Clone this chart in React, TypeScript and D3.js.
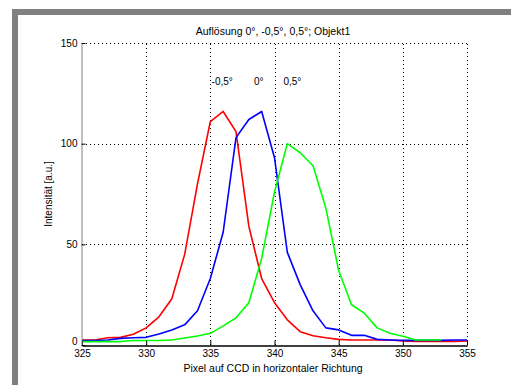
import React, { useEffect, useRef } from "react";
import * as d3 from "d3";

// pixel positions on the CCD (x values)
const pixels = [
  325, 326, 327, 328, 329, 330, 331, 332, 333, 334, 335, 336, 337, 338, 339, 340,
  341, 342, 343, 344, 345, 346, 347, 348, 349, 350, 351, 352, 353, 354, 355,
];

// intensity, -0,5°
const redValues = [
  2.5, 2.5, 3.6, 3.8, 5.3, 8.5, 14, 23, 45, 80, 111, 116, 106, 59, 33, 21,
  12.5, 6.6, 4.6, 3.6, 2.8, 2.5, 2.5, 2.5, 2.5, 2, 1.8, 1.8, 1.8, 1.8, 2,
];
// intensity, 0°
const blueValues = [
  2.2, 2.2, 2.5, 3.3, 3.6, 3.8, 5.5, 7.5, 10, 17, 33, 56, 103, 112, 116, 93,
  46, 30, 17, 8.5, 7.5, 4.8, 4.8, 2.8, 2.5, 2.3, 2.3, 2.3, 2.3, 2.5, 2.5,
];
// intensity, 0,5° (ends at 353)
const greenValues = [
  1.7, 1.7, 1.7, 1.7, 2.2, 2.2, 2.2, 2.5, 3.5, 4.5, 5.8, 9.5, 13.5, 21, 43, 76,
  100, 95.5, 89, 68, 37, 20, 15.8, 8.5, 5.8, 4.3, 2.5, 2.5, 2.5,
];

const xTicks = [325, 330, 335, 340, 345, 350, 355];
const yTicks = [0, 50, 100, 150];

const labelTexts = ["-0,5°", "0°", "0,5°"];
const labelX = [335.1, 338.4, 340.7];
const labelY = [131, 131, 131];

const title = "Auflösung 0°, -0,5°, 0,5°; Objekt1";
const xTitle = "Pixel auf CCD in horizontaler Richtung";
const yTitle = "Intensität [a.u.]";

const FONT = "'Liberation Sans', Arial, Helvetica, sans-serif";

export default function App() {
  const svgRef = useRef<SVGSVGElement>(null);

  useEffect(() => {
    const width = 511;
    const height = 385;
    const plot = { left: 82, right: 467, top: 43, bottom: 345 };

    const svg = d3.select(svgRef.current);
    svg.selectAll("*").remove();
    svg.attr("width", width).attr("height", height);

    svg.append("rect").attr("width", width).attr("height", height).attr("fill", "#fff");
    // grey frame on top and left
    svg.append("rect").attr("x", 12).attr("y", 9).attr("width", width - 12).attr("height", 6).attr("fill", "#808080");
    svg.append("rect").attr("x", 12).attr("y", 9).attr("width", 6).attr("height", height - 9).attr("fill", "#808080");

    const x = d3.scaleLinear().domain([325, 355]).range([plot.left, plot.right]);
    const y = d3.scaleLinear().domain([0, 150]).range([plot.bottom, plot.top]);

    // dotted grid
    const grid = svg.append("g").attr("stroke", "#000").attr("stroke-dasharray", "1,3");
    grid
      .selectAll("line.gx")
      .data(xTicks.slice(1))
      .join("line")
      .attr("class", "gx")
      .attr("x1", (d) => Math.round(x(d)) + 0.5)
      .attr("x2", (d) => Math.round(x(d)) + 0.5)
      .attr("y1", y(0))
      .attr("y2", y(150));
    grid
      .selectAll("line.gy")
      .data(yTicks.slice(1))
      .join("line")
      .attr("class", "gy")
      .attr("x1", x(325))
      .attr("x2", x(355))
      .attr("y1", (d) => Math.round(y(d)) + 0.5)
      .attr("y2", (d) => Math.round(y(d)) + 0.5);

    // curves
    const line = d3
      .line<[number, number]>()
      .x((d) => x(d[0]))
      .y((d) => y(d[1]));
    const series = [
      { values: redValues, color: "#ff0000" },
      { values: blueValues, color: "#0000ff" },
      { values: greenValues, color: "#00ff00" },
    ];
    svg
      .append("g")
      .selectAll("path")
      .data(series)
      .join("path")
      .attr("fill", "none")
      .attr("stroke", (d) => d.color)
      .attr("stroke-width", 1.6)
      .attr("stroke-linejoin", "round")
      .attr("d", (d) => line(d.values.map((v, i) => [pixels[i], v] as [number, number])));

    // axes
    const xAxis = svg
      .append("g")
      .attr("transform", `translate(0,${plot.bottom + 0.5})`)
      .call(d3.axisBottom(x).tickValues(xTicks).tickSizeInner(-5).tickSizeOuter(0).tickPadding(4));
    xAxis.select(".domain").attr("stroke", "#000").attr("stroke-width", 1.5);
    xAxis.selectAll(".tick line").attr("stroke", "#000");

    const yAxis = svg
      .append("g")
      .attr("transform", `translate(${plot.left - 0.5},0)`)
      .call(d3.axisLeft(y).tickValues(yTicks).tickSizeInner(-4).tickSizeOuter(0).tickPadding(4));
    yAxis.select(".domain").attr("stroke", "#808080");
    yAxis.selectAll(".tick line").attr("stroke", "#000");
    // the 0 label sits a little higher so it clears the 325 label
    yAxis
      .selectAll<SVGTextElement, number>(".tick text")
      .filter((d) => d === 0)
      .attr("dy", "-0.1em");

    svg.selectAll(".tick text").attr("font-family", FONT).attr("font-size", 10).attr("fill", "#000");

    // angle labels
    svg
      .append("g")
      .selectAll("text")
      .data(labelTexts)
      .join("text")
      .attr("x", (_, i) => x(labelX[i]))
      .attr("y", (_, i) => y(labelY[i]))
      .attr("dy", "0.35em")
      .attr("font-family", FONT)
      .attr("font-size", 10)
      .text((d) => d);

    svg
      .append("text")
      .attr("x", 273)
      .attr("y", 35)
      .attr("text-anchor", "middle")
      .attr("font-family", FONT)
      .attr("font-size", 10.5)
      .text(title);

    svg
      .append("text")
      .attr("x", 273)
      .attr("y", 372)
      .attr("text-anchor", "middle")
      .attr("font-family", FONT)
      .attr("font-size", 10.5)
      .text(xTitle);

    svg
      .append("text")
      .attr("transform", `translate(52,194) rotate(-90)`)
      .attr("text-anchor", "middle")
      .attr("font-family", FONT)
      .attr("font-size", 10)
      .text(yTitle);
  }, []);

  return (
    <div style={{ position: "absolute", left: 0, top: 0 }}>
      <svg ref={svgRef} style={{ display: "block" }} />
    </div>
  );
}
